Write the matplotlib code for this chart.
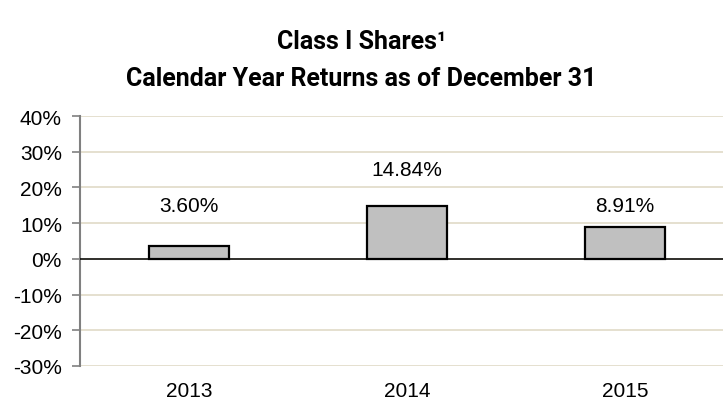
import matplotlib.pyplot as plt

years = ["2013", "2014", "2015"]
returns = [3.60, 14.84, 8.91]
value_labels = ["3.60%", "14.84%", "8.91%"]
y_ticks = [-30, -20, -10, 0, 10, 20, 30, 40]

# label heights above each bar (data units)
label_y = [14.8, 24.9, 14.8]

plt.rcParams['font.family'] = ['Liberation Sans', 'DejaVu Sans']

fig = plt.figure(figsize=(7.23, 4.02), dpi=100)
ax = fig.add_axes([80 / 723, 35 / 402, 643 / 723, 250 / 402])

x = list(range(len(years)))
ax.bar(x, returns, width=0.367, color="#c0c0c0", edgecolor="black", linewidth=1.6, zorder=3)

for xi, txt, ly in zip(x, value_labels, label_y):
    ax.text(xi, ly, txt, ha="center", va="center", fontsize=15)

ax.set_ylim(-30, 40)
ax.set_xlim(-0.5, 2.45)
ax.set_yticks(y_ticks)
ax.set_yticklabels([f"{t}%" for t in y_ticks], fontsize=15)
ax.set_xticks(x)
ax.set_xticklabels(years, fontsize=15)

ax.grid(axis="y", color="#e3ddcb", linewidth=1.3, zorder=0)
ax.axhline(0, color="black", linewidth=1.1, zorder=4)

for s in ["top", "right", "bottom"]:
    ax.spines[s].set_visible(False)
ax.spines["left"].set_color("#808080")
ax.spines["left"].set_linewidth(1.5)
ax.tick_params(axis="y", length=6, width=1.2, color="#808080", pad=7)
ax.tick_params(axis="x", length=0, pad=11)

fig.text(0.5, 1 - 42 / 402, "Class I Shares\u00b9", ha="center", va="center",
         fontsize=18, fontweight="bold", family=["Roboto", "DejaVu Sans"])
fig.text(0.5, 1 - 79 / 402, "Calendar Year Returns as of December 31", ha="center", va="center",
         fontsize=18, fontweight="bold", family=["Roboto", "DejaVu Sans"])

fig.savefig("out.png", dpi=100)
